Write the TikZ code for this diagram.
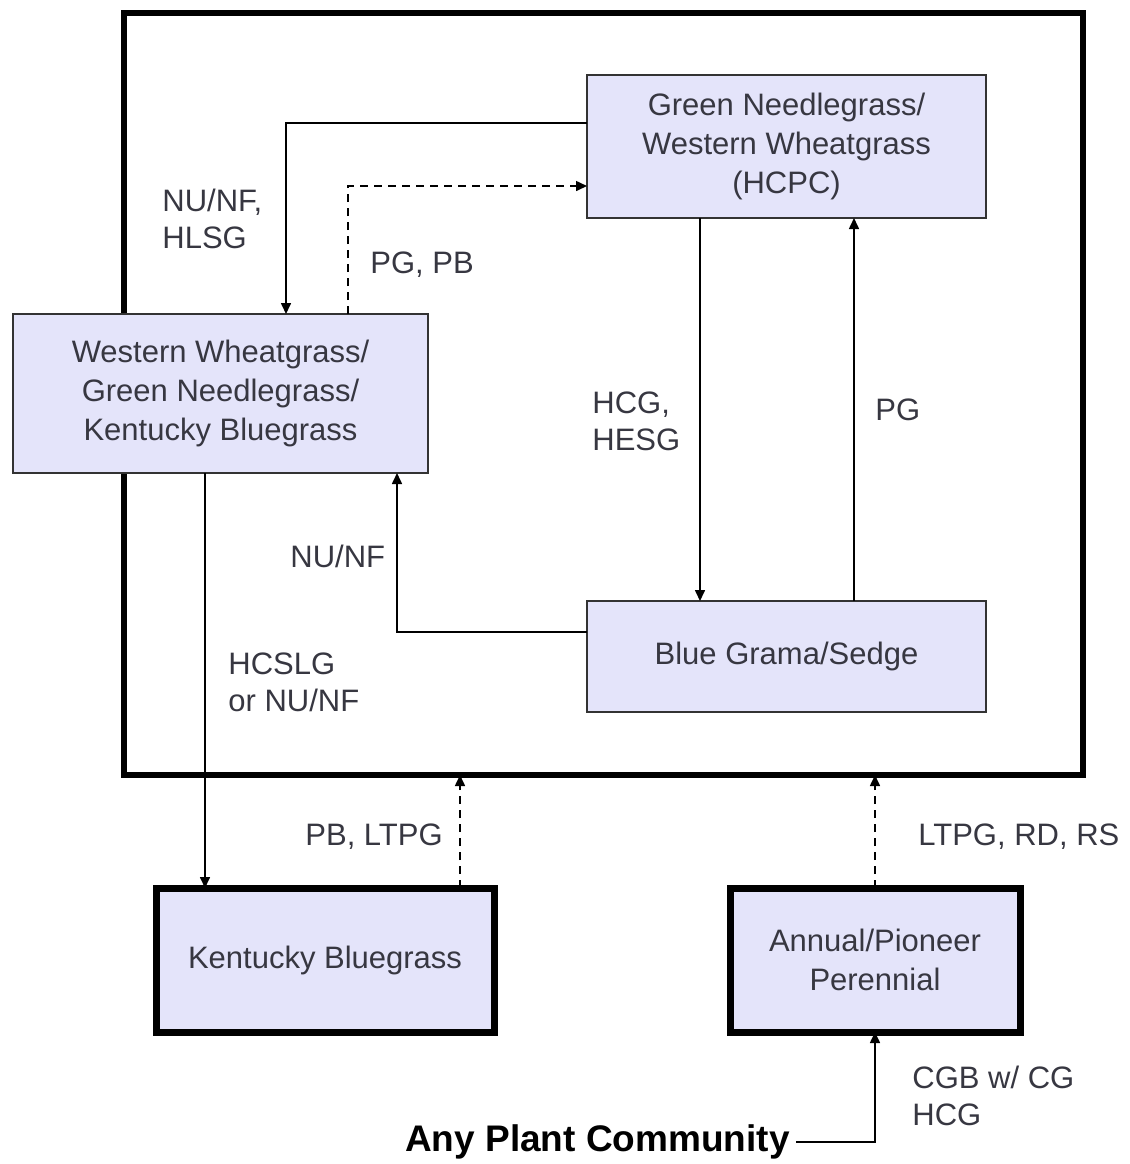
\documentclass[tikz,border=0pt]{standalone}
\usepackage{fontspec}
\setmainfont{Liberation Sans}
\usetikzlibrary{arrows.meta}
\definecolor{boxfill}{RGB}{228,228,250}
\definecolor{txt}{RGB}{55,55,65}
\tikzset{
  box/.style={draw=black!80, line width=1pt, fill=boxfill, align=center, text=txt,
    font=\fontsize{15.5}{19.5}\selectfont, inner sep=0pt, outer sep=0pt},
  thickbox/.style={box, draw=black, line width=3.5pt},
  frm/.style={draw=black, line width=3pt, inner sep=0pt, outer sep=0pt},
  conn/.style={line width=0.8pt, -{Triangle[length=5.5pt,width=5pt]}},
  dashline/.style={dash pattern=on 4pt off 3pt},
  lbl/.style={anchor=west, align=left, text=txt, inner sep=0pt,
    font=\fontsize{15.5}{18.5}\selectfont}
}
\begin{document}
\begin{tikzpicture}[x=0.5pt,y=-0.5pt]
\useasboundingbox (0,0) rectangle (1130,1164);
\node[frm, minimum width=479.5pt, minimum height=381pt] (frame) at (603.5,394) {};
\node[box, minimum width=199.5pt, minimum height=71.5pt] (A) at (786.5,146.5)
  {Green Needlegrass/\\Western Wheatgrass\\(HCPC)};
\node[box, minimum width=207.5pt, minimum height=79.5pt] (B) at (220.5,393.5)
  {Western Wheatgrass/\\Green Needlegrass/\\Kentucky Bluegrass};
\node[box, minimum width=199.5pt, minimum height=55.5pt] (C) at (786.5,656.5)
  {\raisebox{-2pt}{Blue Grama/Sedge}};
\node[thickbox, minimum width=169pt, minimum height=72pt] (D) at (325,960)
  {Kentucky Bluegrass};
\node[thickbox, minimum width=145pt, minimum height=72pt] (E) at (875,960)
  {Annual/Pioneer\\Perennial};
\node[anchor=east, inner sep=0pt, font=\fontsize{18.5}{22}\selectfont\bfseries] (any) at (790,1142)
  {Any Plant Community};

\draw[conn] (A.west |- 0,123) -| (B.north -| 286,0);
\draw[conn,dashline] (B.north -| 348,0) |- (A.west |- 0,186);
\draw[conn] (A.south -| 700,0) -- (C.north -| 700,0);
\draw[conn] (C.north -| 854,0) -- (A.south -| 854,0);
\draw[conn] (C.west |- 0,632) -| (B.south -| 397,0);
\draw[conn] (B.south -| 205,0) -- (D.north -| 205,0);
\draw[conn,dashline] (D.north -| 460,0) -- (frame.south -| 460,0);
\draw[conn,dashline] (E.north) -- (frame.south -| E.north);
\draw[conn] ([xshift=3pt]any.east) -| (E.south);

\node[lbl] (l1) at (162,219) {NU/NF,\\HLSG};
\node[lbl] (l2) at (370,265) {PG, PB};
\node[lbl] (l3) at (592,421) {HCG,\\HESG};
\node[lbl] (l4) at (875,410) {PG};
\node[lbl] (l5) at (290,556) {NU/NF};
\node[lbl] (l6) at (228,682) {HCSLG\\or NU/NF};
\node[lbl] (l7) at (305,837) {PB, LTPG};
\node[lbl] (l8) at (918,837) {LTPG, RD, RS};
\node[lbl] (l9) at (912,1096) {CGB w/ CG\\HCG};
\end{tikzpicture}
\end{document}
